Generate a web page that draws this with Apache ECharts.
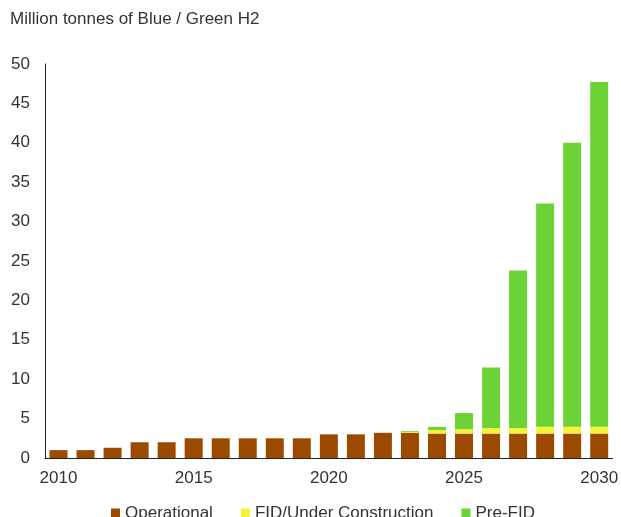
<!DOCTYPE html>
<html>
<head>
<meta charset="utf-8">
<script src="https://cdn.jsdelivr.net/npm/echarts@6/dist/echarts.min.js"></script>
<style>
  html, body { margin: 0; padding: 0; background: #fff; }
  #chart { width: 621px; height: 517px; }
</style>
</head>
<body>
<div id="chart"></div>
<script>
// Hydrogen production capacity by project status, 2010-2030
const years = ['2010','2011','2012','2013','2014','2015','2016','2017','2018','2019',
               '2020','2021','2022','2023','2024','2025','2026','2027','2028','2029','2030'];
const operational = [1.0, 1.0, 1.3, 2.0, 2.0, 2.5, 2.5, 2.5, 2.5, 2.5,
                     3.0, 3.0, 3.2, 3.2, 3.1, 3.1, 3.1, 3.1, 3.1, 3.1, 3.1];
const fidUnderConstruction = [0, 0, 0, 0, 0, 0, 0, 0, 0, 0,
                              0, 0, 0, 0.1, 0.45, 0.55, 0.7, 0.7, 0.85, 0.85, 0.85];
const preFid = [0, 0, 0, 0, 0, 0, 0, 0, 0, 0,
                0, 0, 0, 0.1, 0.4, 2.05, 7.7, 20.0, 28.35, 36.05, 43.75];
const yTicks = { min: 0, max: 50, interval: 5 };

const FONT = 'Liberation Sans, Arial, sans-serif';
const TEXT = '#333333';

const chart = echarts.init(document.getElementById('chart'), null, { renderer: 'canvas' });

function barSeries(name, data, color) {
  return {
    name: name,
    type: 'bar',
    stack: 'total',
    barWidth: 18,
    data: data,
    itemStyle: { color: color },
    emphasis: { disabled: true }
  };
}

chart.setOption({
  animation: false,
  title: {
    text: 'Million tonnes of Blue / Green H2',
    left: 5,
    top: 6,
    textStyle: { fontFamily: FONT, fontSize: 17, fontWeight: 'normal', color: TEXT }
  },
  legend: {
    left: 106,
    top: 500,
    itemWidth: 9,
    itemHeight: 10,
    itemGap: 28,
    icon: 'rect',
    textStyle: { fontFamily: FONT, fontSize: 17, color: TEXT },
    data: ['Operational', 'FID/Under Construction', 'Pre-FID']
  },
  grid: { left: 45, right: 4, top: 64, bottom: 59, containLabel: false },
  xAxis: {
    type: 'category',
    data: years,
    boundaryGap: true,
    axisLine: { lineStyle: { color: '#222', width: 1 } },
    axisTick: { show: false },
    axisLabel: {
      interval: 4,
      margin: 12,
      fontFamily: FONT,
      fontSize: 17,
      color: TEXT
    }
  },
  yAxis: {
    type: 'value',
    min: yTicks.min,
    max: yTicks.max,
    interval: yTicks.interval,
    axisLine: { show: true, lineStyle: { color: '#222', width: 1 } },
    axisTick: { show: false },
    splitLine: { show: false },
    axisLabel: {
      margin: 15,
      fontFamily: FONT,
      fontSize: 17,
      color: TEXT
    }
  },
  series: [
    barSeries('Operational', operational, '#9C4A00'),
    barSeries('FID/Under Construction', fidUnderConstruction, '#F3F33A'),
    barSeries('Pre-FID', preFid, '#6BD336')
  ]
});
</script>
</body>
</html>
